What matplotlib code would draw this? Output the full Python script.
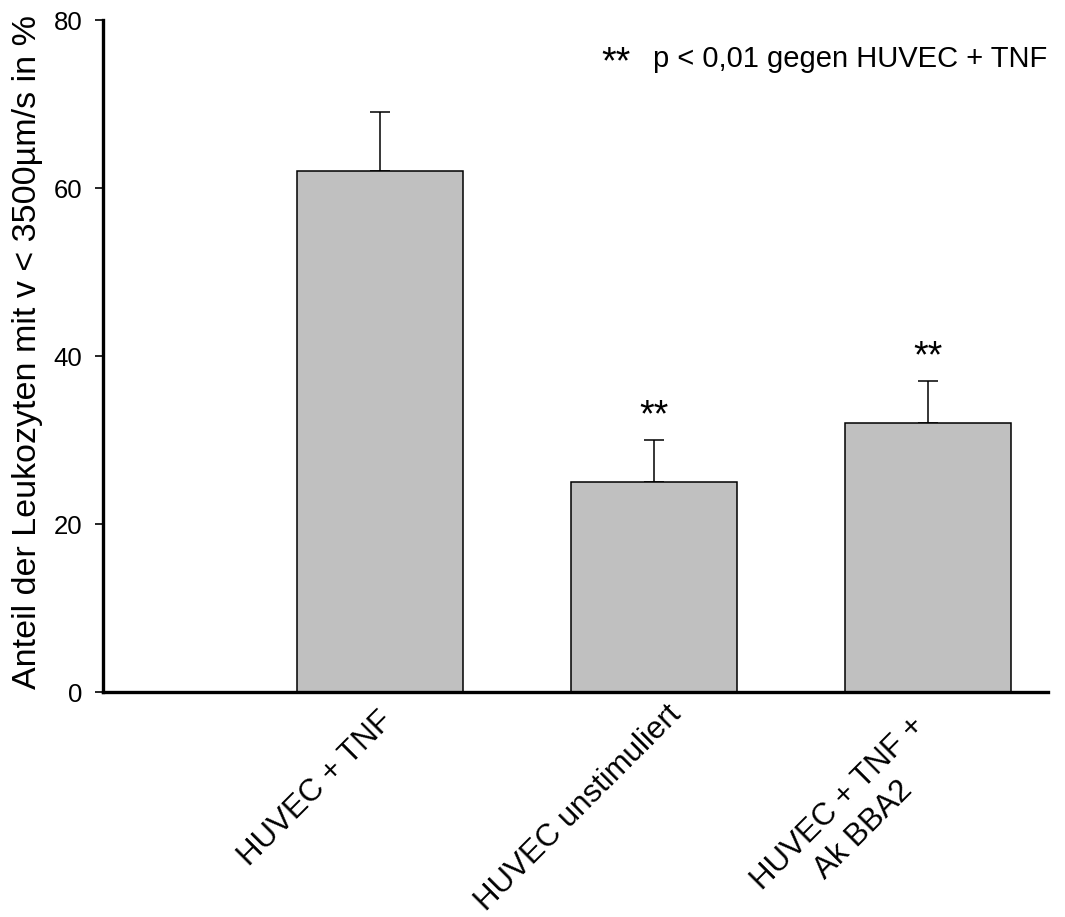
import matplotlib
matplotlib.use("Agg")
import matplotlib.pyplot as plt
import numpy as np

plt.rcParams['font.family'] = ['Liberation Sans', 'DejaVu Sans']

# Data
categories = ["HUVEC + TNF", "HUVEC unstimuliert", "HUVEC + TNF +\nAk BBA2"]
means = [62, 25, 32]
sem = [7, 5, 5]
significant = [False, True, True]
y_ticks = [0, 20, 40, 60, 80]

W, H, DPI = 1065, 917, 100
fig = plt.figure(figsize=(W / DPI, H / DPI), dpi=DPI)
ax = fig.add_axes([103 / W, 1 - 692 / H, (1048 - 103) / W, (692 - 20) / H])

x = np.arange(1, len(categories) + 1)
ax.bar(x, means, width=0.606, color='#c0c0c0', edgecolor='black',
       linewidth=1.1, zorder=2)
ax.errorbar(x, means, yerr=[np.zeros(len(sem)), sem], fmt='none',
            ecolor='black', elinewidth=1.1, capsize=7.5, capthick=1.1, zorder=1)

# Significance markers above the error bars
for xi, m, e, s in zip(x, means, sem, significant):
    if s:
        ax.annotate("**", xy=(xi, m + e), xytext=(0, 10), textcoords='offset points',
                    ha='center', va='baseline', fontsize=27)

ax.set_xlim(-0.011, 3.438)
ax.set_ylim(0, 80)
ax.set_yticks(y_ticks)
ax.set_yticklabels([str(t) for t in y_ticks], fontsize=18.5)
ax.tick_params(axis='y', direction='out', length=6, width=1.2, pad=9)
ax.set_xticks([])

for side in ('top', 'right'):
    ax.spines[side].set_visible(False)
ax.spines['left'].set_linewidth(2.4)
ax.spines['bottom'].set_linewidth(2.4)

# Rotated category labels below the axis (one text per line, stacked
# perpendicular to the 45 degree reading direction)
label_offsets = [(-64, -97), (-76, -116), (-77, -125)]
line_step = 37 * 0.72
perp = np.array([np.cos(np.radians(45)), -np.sin(np.radians(45))])
for xi, lab, (dx, dy) in zip(x, categories, label_offsets):
    lines = lab.split("\n")
    n = len(lines)
    for k, line in enumerate(lines):
        off = np.array([dx * 0.72, dy * 0.72]) + (k - (n - 1) / 2) * line_step * perp
        ax.annotate(line, xy=(xi, 0), xycoords=('data', 'axes fraction'),
                    xytext=tuple(off), textcoords='offset points',
                    rotation=45, rotation_mode='anchor', ha='center', va='center',
                    fontsize=22.5, annotation_clip=False)

ax.set_ylabel("Anteil der Leukozyten mit v < 3500µm/s in %", fontsize=24.5, va='center')
ax.yaxis.set_label_coords(-0.080, 0.506)

# Legend note for the significance markers
ax.text(0.558, 0.921, "**", transform=ax.transAxes,
        ha='right', va='baseline', fontsize=27)
ax.text(0.999, 0.930, "p < 0,01 gegen HUVEC + TNF", transform=ax.transAxes,
        ha='right', va='baseline', fontsize=21)

fig.savefig("out.png", dpi=DPI)
